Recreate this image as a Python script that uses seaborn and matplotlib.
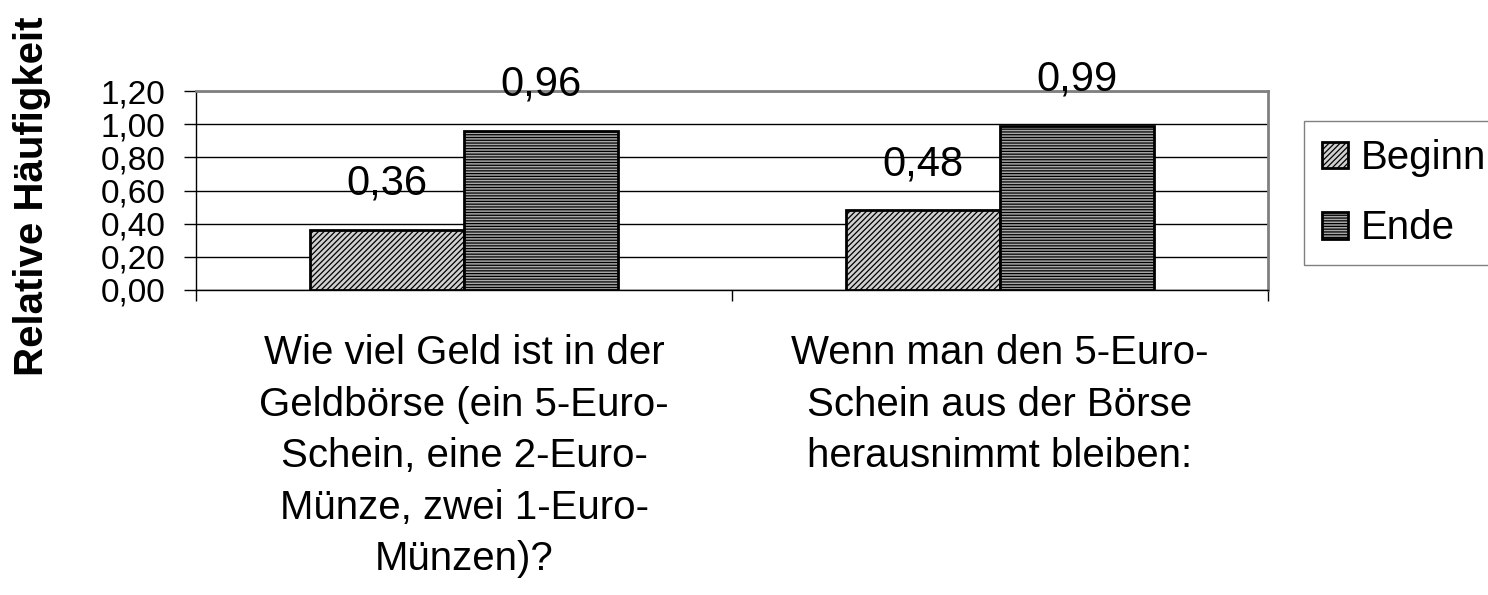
import matplotlib
matplotlib.use("Agg")
import matplotlib.pyplot as plt
import seaborn as sns
import pandas as pd

categories = [
    "Wie viel Geld ist in der\nGeldbörse (ein 5-Euro-\nSchein, eine 2-Euro-\nMünze, zwei 1-Euro-\nMünzen)?",
    "Wenn man den 5-Euro-\nSchein aus der Börse\nherausnimmt bleiben:",
]
series = ["Beginn", "Ende"]
beginn = [0.36, 0.48]
ende = [0.96, 0.99]
yticks = [0.0, 0.2, 0.4, 0.6, 0.8, 1.0, 1.2]

sns.set_style("white")
plt.rcParams["font.family"] = ["Liberation Sans", "DejaVu Sans"]
plt.rcParams["hatch.linewidth"] = 0.9
for k in ["text.color", "axes.labelcolor", "xtick.color", "ytick.color"]:
    plt.rcParams[k] = "black"

df = pd.DataFrame({
    "cat": categories * 2,
    "series": [series[0]] * 2 + [series[1]] * 2,
    "val": beginn + ende,
})

fig = plt.figure(figsize=(14.88, 5.95), dpi=100)
ax = fig.add_axes([196 / 1488, 1 - 290 / 595, (1268 - 196) / 1488, (290 - 91) / 595])

sns.barplot(data=df, x="cat", y="val", hue="series", ax=ax, width=0.575,
            palette=["#d0d0d0", "#a8a8a8"], edgecolor="black", linewidth=2,
            saturation=1, legend=True, zorder=3)

hatches = ["//////", "------"]
for cont, h in zip(ax.containers, hatches):
    for p in cont:
        p.set_hatch(h)
        p.set_edgecolor("black")
    ax.bar_label(cont, labels=[f"{v.get_height():.2f}".replace(".", ",") for v in cont],
                 padding=19, fontsize=30, color="black")

ax.set_ylim(0, 1.2)
ax.set_xlim(-0.5, 1.5)
ax.set_yticks(yticks)
ax.set_yticklabels([f"{t:.2f}".replace(".", ",") for t in yticks], fontsize=24)
ax.tick_params(axis="y", length=9, width=1, color="black", pad=13, left=True)
ax.set_xticks([0, 1])
ax.set_xticklabels(categories, fontsize=29, linespacing=1.45)
ax.tick_params(axis="x", which="major", length=0, pad=32)
ax.set_xticks([-0.5, 0.5, 1.5], minor=True)
ax.tick_params(axis="x", which="minor", length=8, width=1, color="black", bottom=True)
ax.grid(axis="y", color="black", linewidth=1, zorder=0)
ax.set_axisbelow(True)

for s in ["top", "right"]:
    ax.spines[s].set_color("#808080")
    ax.spines[s].set_linewidth(2)
for s in ["left", "bottom"]:
    ax.spines[s].set_color("black")
    ax.spines[s].set_linewidth(1)

ax.set_xlabel("")
ax.set_ylabel("")
fig.text(32 / 1488, 1 - 196 / 595, "Relative Häufigkeit", rotation=90, fontsize=29,
         fontweight="bold", ha="center", va="center")

leg = ax.legend(loc="upper left", bbox_to_anchor=(1304 / 1488, 1 - 121 / 595),
                bbox_transform=fig.transFigure, fontsize=29, frameon=True,
                fancybox=False, edgecolor="#606060", handlelength=0.65, handleheight=0.65,
                handletextpad=0.3, labelspacing=0.8, borderpad=0.45, borderaxespad=0)
leg.get_frame().set_linewidth(1)
for hnd, h in zip(leg.legend_handles, hatches):
    hnd.set_hatch(h)
    hnd.set_edgecolor("black")
    hnd.set_linewidth(2)

fig.savefig("out.png", dpi=100)
